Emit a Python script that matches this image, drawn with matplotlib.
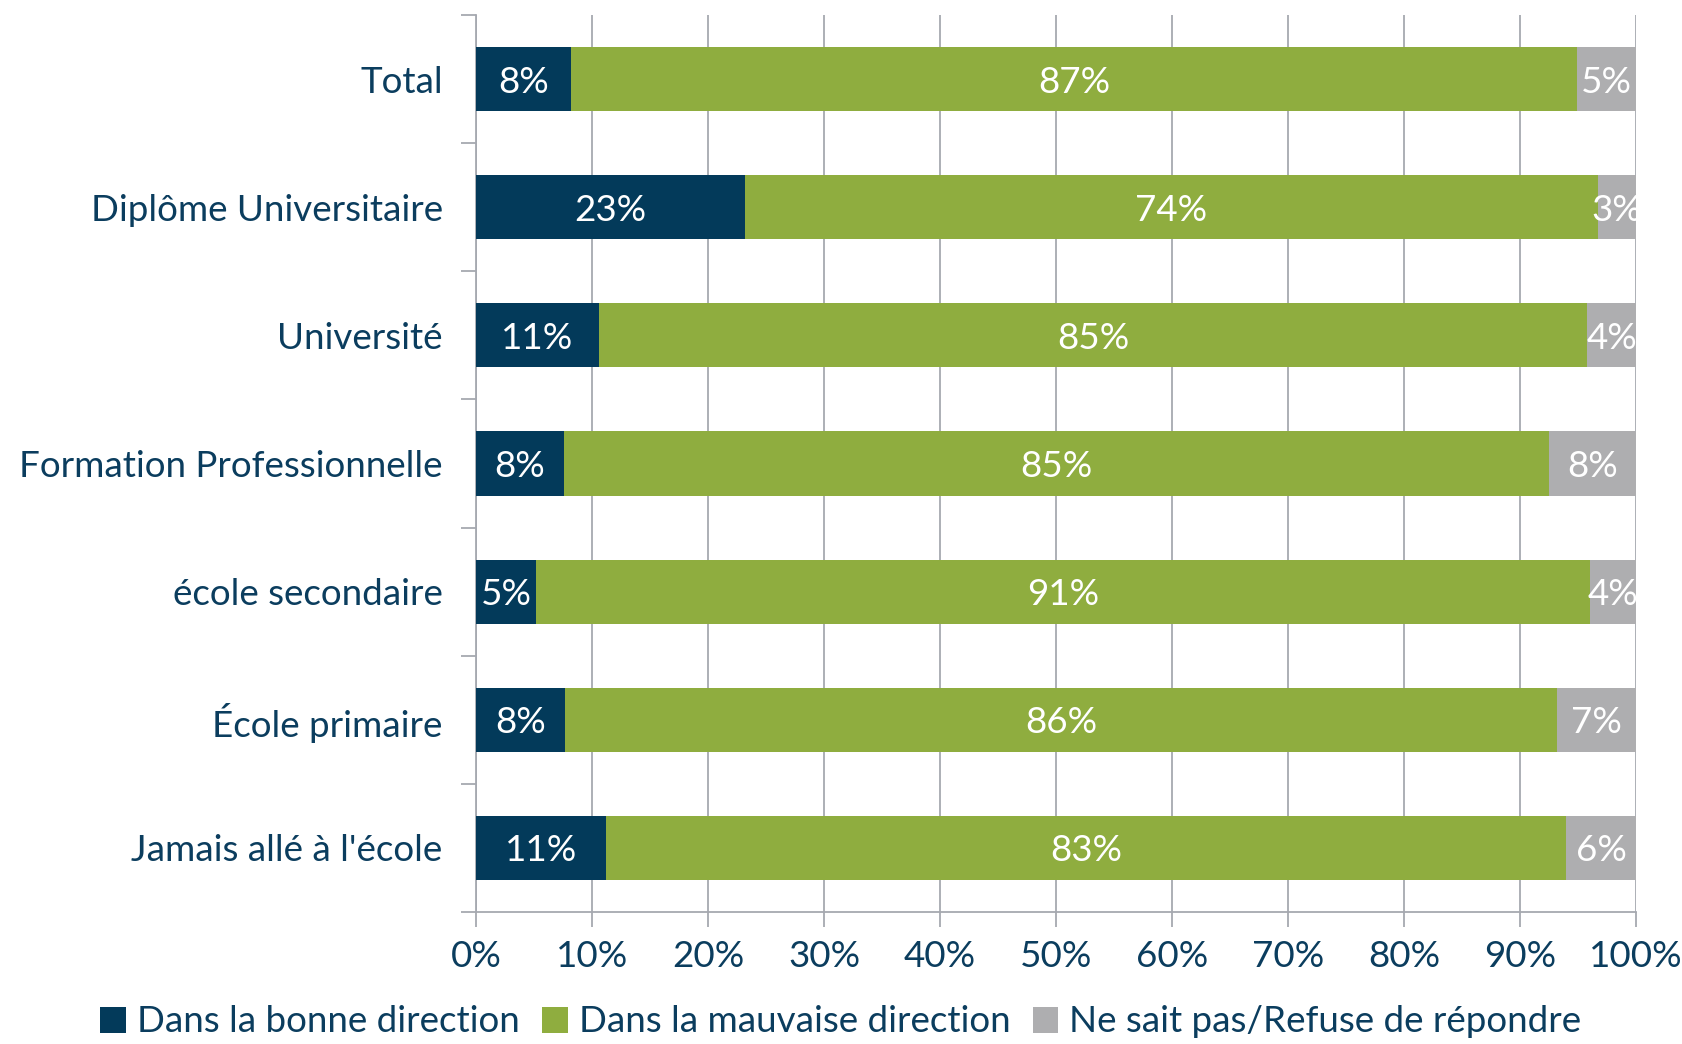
import matplotlib; matplotlib.use("Agg")
import matplotlib.pyplot as plt
import numpy as np

plt.rcParams["font.family"] = ["Lato", "DejaVu Sans"]

categories = ["Total", "Diplôme Universitaire", "Université", "Formation Professionnelle",
              "école secondaire", "École primaire", "Jamais allé à l'école"]
bonne = [8.2, 23.2, 10.6, 7.6, 5.2, 7.7, 11.2]
mauvaise = [86.7, 73.5, 85.2, 84.9, 90.8, 85.5, 82.8]
nsp = [5.1, 3.3, 4.2, 7.5, 4.0, 6.8, 6.0]
series_names = ["Dans la bonne direction", "Dans la mauvaise direction",
                "Ne sait pas/Refuse de répondre"]

NAVY, GREEN, GREY = "#033A5A", "#8FAD3F", "#AEAEB0"
TXT = "#0B3D5E"
AX = "#A6A9B0"
FS = 26.5

fig = plt.figure(figsize=(16.82, 10.44), dpi=100)
ax = fig.add_axes([476/1682, 1-912/1044, (1636-476)/1682, (912-15)/1044])

y = np.arange(len(categories))
left = np.zeros(len(categories))
for vals, col, name in zip([bonne, mauvaise, nsp], [NAVY, GREEN, GREY], series_names):
    vals = np.array(vals)
    ax.barh(y, vals, left=left, height=0.5, color=col, label=name, zorder=3)
    for yi, l, v in zip(y, left, vals):
        ax.text(l + v/2, yi, f"{round(v):d}%", ha="center", va="center_baseline",
                color="white", fontsize=FS, zorder=4)
    left += vals

ax.set_xlim(0, 100)
ax.set_ylim(len(categories)-0.5, -0.5)
ax.set_xticks(np.arange(0, 101, 10))
ax.set_xticklabels([f"{v}%" for v in range(0, 101, 10)], fontsize=FS, color=TXT)
ax.set_yticks(y)
ax.set_yticklabels(categories, fontsize=FS, color=TXT)
ax.set_yticks(np.arange(-0.5, len(categories)), minor=True)
ax.tick_params(axis="y", which="major", length=0, pad=24)
ax.tick_params(axis="y", which="minor", length=11, color=AX, width=1.3)
ax.tick_params(axis="x", length=11, color=AX, width=1.3, pad=9)
ax.grid(axis="x", color=AX, linewidth=1.3, zorder=0)
for s in ["top", "right"]:
    ax.spines[s].set_visible(False)
for s in ["left", "bottom"]:
    ax.spines[s].set_color(AX)
    ax.spines[s].set_linewidth(1.3)

leg = fig.legend(loc="center", bbox_to_anchor=(0.5, 1-1022/1044), ncol=3, frameon=False,
                 fontsize=FS, handlelength=0.7, handleheight=0.7, handletextpad=0.3,
                 columnspacing=0.6, borderaxespad=0)
for t in leg.get_texts():
    t.set_color(TXT)

fig.savefig("out.png", dpi=100)
